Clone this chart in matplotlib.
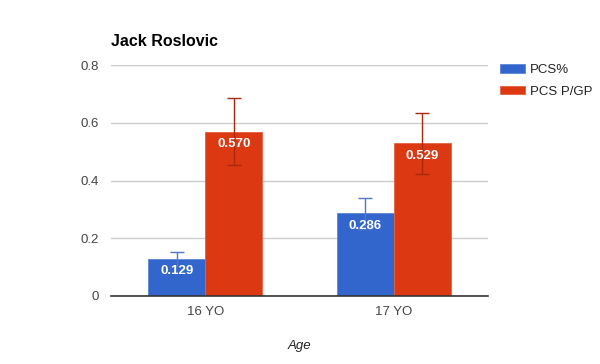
import numpy as np
import matplotlib.pyplot as plt

plt.rcParams['font.family'] = ['Liberation Sans', 'DejaVu Sans']

categories = ['16 YO', '17 YO']
pcs_pct = [0.129, 0.286]
pcs_pct_err = [0.024, 0.055]
pcs_pgp = [0.570, 0.529]
pcs_pgp_err = [0.115, 0.106]
labels = ['PCS%', 'PCS P/GP']

blue, red = '#3366cc', '#dc3912'

fig = plt.figure(figsize=(6, 3.64), dpi=100)
ax = fig.add_axes([0.185, 0.187, 0.628, 0.634])

x = np.arange(len(categories))
w = 0.303
b1 = ax.bar(x - w / 2, pcs_pct, w, color=blue, edgecolor='#5b85d6', lw=0.6,
            yerr=pcs_pct_err, error_kw=dict(ecolor='#4f79c6', capsize=5, elinewidth=1, capthick=1),
            label=labels[0], zorder=2)
b2 = ax.bar(x + w / 2, pcs_pgp, w, color=red, edgecolor='#e5603f', lw=0.6,
            yerr=pcs_pgp_err, error_kw=dict(ecolor='#a8290c', capsize=5, elinewidth=1, capthick=1),
            label=labels[1], zorder=2)

for bars, vals in ((b1, pcs_pct), (b2, pcs_pgp)):
    for r, v in zip(bars, vals):
        ax.annotate(f'{v:.3f}', (r.get_x() + r.get_width() / 2, v), xytext=(0, -9),
                    textcoords='offset points', ha='center', va='center',
                    color='white', fontsize=9.5, fontweight='bold', zorder=5)

ax.set_xlim(-0.5, 1.5)
ax.set_ylim(0, 0.8)
ax.set_yticks([0, 0.2, 0.4, 0.6, 0.8])
ax.set_yticklabels(['0', '0.2', '0.4', '0.6', '0.8'])
ax.set_xticks(x)
ax.set_xticklabels(categories)
ax.tick_params(length=0, colors='#444444', labelsize=9.5)
ax.tick_params(axis='y', pad=9)
ax.tick_params(axis='x', pad=7)
ax.grid(axis='y', color='#cccccc', lw=1, zorder=0)
ax.set_axisbelow(True)
for s in ['top', 'right', 'left']:
    ax.spines[s].set_visible(False)
ax.spines['bottom'].set_color('#333333')
ax.spines['bottom'].set_linewidth(1.2)

ax.set_xlabel('Age', fontstyle='italic', fontsize=9.5, color='#222222', labelpad=16)
fig.text(0.185, 0.875, 'Jack Roslovic', fontsize=11.5, fontweight='bold', color='black')

fig.legend(handles=[b1.patches[0], b2.patches[0]], labels=labels, loc='upper left',
           bbox_to_anchor=(500 / 600, 1 - 64 / 364), frameon=False, fontsize=9.5,
           borderpad=0, borderaxespad=0,
           handlelength=1.9, handleheight=0.6, handletextpad=0.4, labelspacing=0.75,
           labelcolor='#222222')

fig.savefig('out.png', dpi=100)
